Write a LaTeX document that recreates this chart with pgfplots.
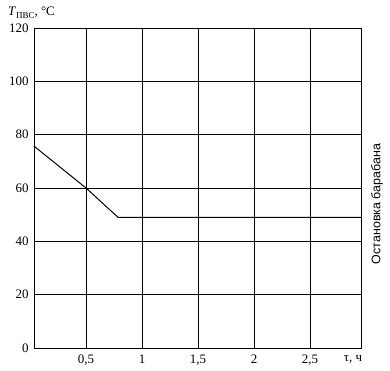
\documentclass[border=0pt]{standalone}
\usepackage{pgfplots}
\pgfplotsset{compat=1.18}
\usepackage{fontspec}
\setmainfont{Liberation Serif}
\newfontfamily\arialf{Liberation Sans}
\begin{document}
\begin{tikzpicture}[x=1bp,y=1bp]
\begin{axis}[
  at={(0,0)}, anchor=south west,
  scale only axis, width=327bp, height=320bp,
  xmin=0.036, xmax=2.955, ymin=0, ymax=120,
  xtick={0.5,1,1.5,2,2.5},
  xticklabels={{0,5},1,{1,5},2,{2,5}},
  ytick={0,20,40,60,80,100,120},
  major tick length=0pt,
  grid=major,
  grid style={black, line width=0.7pt},
  axis line style={black, line width=0.8pt},
  /pgf/number format/assume math mode=true,
  tick label style={font=\fontsize{13}{14}\selectfont},
  xticklabel style={yshift=-3bp},
  yticklabel style={xshift=-2bp},
  clip=false,
]
\addplot[black, line width=1pt] coordinates {(0.036,75.7) (0.5,60) (0.786,49) (2.955,49)};
\node[anchor=base west, font=\fontsize{13}{14}\selectfont, inner sep=0pt] at (rel axis cs:0,1) [xshift=-26bp, yshift=12bp] {\textit{T}\raisebox{-0.4ex}{\fontsize{9}{10}\selectfont ПВС}, °С};
\node[anchor=center, font=\fontsize{13}{14}\selectfont, inner sep=0pt] at (rel axis cs:1,0) [xshift=-8bp, yshift=-12bp] {τ, ч};
\node[rotate=90, anchor=center, font=\arialf\fontsize{12.5}{14}\selectfont, inner sep=0pt] at (rel axis cs:1,0.45) [yshift=-16bp] {Остановка барабана};
\end{axis}
\pgfresetboundingbox
\useasboundingbox (-34bp,-23bp) rectangle (356bp,348bp);
\end{tikzpicture}
\end{document}
